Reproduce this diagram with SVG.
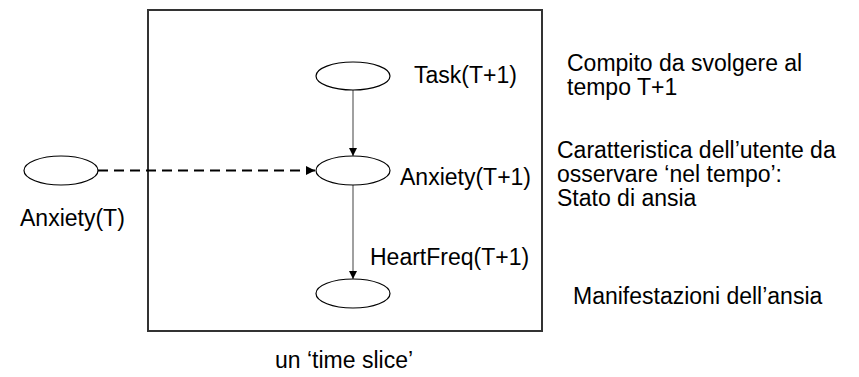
<svg xmlns="http://www.w3.org/2000/svg" width="859" height="377" viewBox="0 0 859 377">
<defs>
<style>
text{font-family:"Liberation Sans",Arial,sans-serif;font-size:23px;fill:#000}
.node{fill:#fff;stroke:#000;stroke-width:1.2}
.edge{stroke:#808080;stroke-width:1.5;fill:none}
.dash{stroke:#000;stroke-width:2.2;stroke-dasharray:10 6;fill:none}
.frame{fill:none;stroke:#333;stroke-width:2}
</style>
<marker id="ah" viewBox="0 0 10 10" refX="10" refY="5" markerWidth="8" markerHeight="8" markerUnits="userSpaceOnUse" orient="auto">
<path d="M0,0 L10,5 L0,10 z" fill="#000"/>
</marker>
<marker id="ah2" viewBox="0 0 10 10" refX="10" refY="5" markerWidth="9" markerHeight="9" markerUnits="userSpaceOnUse" orient="auto">
<path d="M0,0 L10,5 L0,10 z" fill="#000"/>
</marker>
</defs>
<rect class="frame" x="148" y="10" width="394" height="321"/>
<g id="connectors">
<line class="edge" x1="353" y1="90" x2="353" y2="156" marker-end="url(#ah)"/>
<line class="edge" x1="353" y1="185" x2="353" y2="279" marker-end="url(#ah)"/>
<line class="dash" x1="98" y1="170.5" x2="315" y2="170.5" marker-end="url(#ah2)"/>
</g>
<g id="task">
<ellipse class="node" cx="353" cy="76" rx="37" ry="14"/>
<text x="414" y="83">Task(T+1)</text>
</g>
<g id="anxiety-t1">
<ellipse class="node" cx="353" cy="170.5" rx="37" ry="14.5"/>
<text x="400" y="185">Anxiety(T+1)</text>
</g>
<g id="heartfreq">
<ellipse class="node" cx="353" cy="293.5" rx="37" ry="14.5"/>
<text x="370" y="265">HeartFreq(T+1)</text>
</g>
<g id="anxiety-t">
<ellipse class="node" cx="61" cy="170.5" rx="37" ry="14.5"/>
<text x="20" y="226">Anxiety(T)</text>
</g>
<g id="notes">
<text x="567" y="71">Compito da svolgere al</text>
<text x="567" y="95">tempo T+1</text>
<text x="557" y="158">Caratteristica dell’utente da</text>
<text x="557" y="182">osservare ‘nel tempo’:</text>
<text x="557" y="206">Stato di ansia</text>
<text x="573" y="304">Manifestazioni dell’ansia</text>
<text x="275" y="368">un ‘time slice’</text>
</g>
</svg>
